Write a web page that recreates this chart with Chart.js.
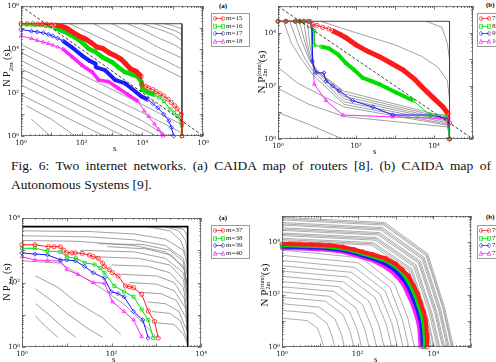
<!DOCTYPE html>
<html>
<head>
<meta charset="utf-8">
<script src="https://cdn.jsdelivr.net/npm/chart.js@4.4.1/dist/chart.umd.min.js"></script>
<style>
  body { margin: 0; width: 496px; height: 362px; overflow: hidden; background: #fff; position: relative; font-family: "Liberation Serif", serif; }
  canvas { position: absolute; }
  .cap { position: absolute; font-size: 13.5px; line-height: 16px; color: #111; white-space: nowrap; }
  .ylab { position: absolute; transform: translate(-50%, -50%) rotate(-90deg); font-size: 10px; white-space: nowrap; color: #111; }
  .xlab { position: absolute; font-size: 9px; color: #111; }
  .tag { position: absolute; font-size: 7px; font-weight: bold; }
  .lg { position: absolute; border: 1px solid #999; background: #fff; font-size: 7px; line-height: 7.5px; padding: 1px 0 1px 1px; white-space: nowrap; }
  .lg div { height: 7.5px; }
  .lg svg { vertical-align: middle; margin-right: 1px; }
  .st { display: inline-flex; flex-direction: column; font-size: 6px; line-height: 6px; vertical-align: middle; }
</style>
</head>
<body>
<canvas id="tl" width="212" height="150" style="left:0;top:0"></canvas>
<canvas id="tr" width="220" height="153" style="left:258px;top:0"></canvas>
<canvas id="bl" width="210" height="157" style="left:0;top:205px"></canvas>
<canvas id="br" width="214" height="157" style="left:262px;top:205px"></canvas>

<div class="cap" style="left:11px;top:158px;width:480px;text-align:justify;text-align-last:justify">Fig. 6: Two internet networks. (a) CAIDA map of routers [8]. (b) CAIDA map of</div>
<div class="cap" style="left:11px;top:177px">Autonomous Systems [9].</div>

<div class="ylab" style="left:8px;top:68px">N P<sub style="font-size:7px">2m</sub>&nbsp;(s)</div>
<div class="ylab" style="left:262px;top:72px;font-size:11px">N P<span class="st"><span>(cum)</span><span>2m</span></span>(s)</div>
<div class="ylab" style="left:8px;top:282px">N P<sub style="font-size:7px">2m</sub>&nbsp;(s)</div>
<div class="ylab" style="left:265px;top:285px;font-size:11px">N P<span class="st"><span>(cum)</span><span>2m</span></span>(s)</div>

<div class="xlab" style="left:113px;top:143px">s</div>
<div class="xlab" style="left:373px;top:146px">s</div>
<div class="xlab" style="left:112px;top:354px">s</div>
<div class="xlab" style="left:374px;top:354px">s</div>

<div class="tag" style="left:219px;top:2px">(a)</div>
<div class="tag" style="left:486px;top:1px">(b)</div>
<div class="tag" style="left:219px;top:214px">(a)</div>
<div class="tag" style="left:486px;top:213px">(b)</div>

<div id="lg-tl" class="lg" style="left:211px;top:13px;width:36px"></div>
<div id="lg-tr" class="lg" style="left:477px;top:13px;width:30px"></div>
<div id="lg-bl" class="lg" style="left:211px;top:225px;width:36px"></div>
<div id="lg-br" class="lg" style="left:477px;top:225px;width:30px"></div>

<script>
// series colours and marker shapes (m order: red, green, blue, magenta)
const colors = ['#ff1a1a', '#00dd00', '#1a1aff', '#ff22ff'];
const shapes = ['circle', 'rect', 'rectRot', 'triangle'];

// ---------- (a) top: CAIDA routers ----------
const tlLabels = ['m=15', 'm=16', 'm=17', 'm=18'];
const tlRed = [[1,1.55e5],[1.6,1.55e5],[2.5,1.55e5],[3.6,1.5e5],[5,1.48e5],[7,1.45e5],[10,1.4e5],[14,1.33e5],[20,1.26e5],[32,9.5e4],[50,6.3e4],[80,4.2e4],[126,3.2e4],[200,2.1e4],[316,1.3e4],[500,1.1e4],[800,7e3],[1260,5.2e3],[2000,3.5e3],[2800,2.2e3],[4000,1.3e3],[6300,950],[9100,560],[9300,240],[1.3e4,200],[1.6e4,165],[2.2e4,140],[2.8e4,112],[3.8e4,90],[5e4,71],[7e4,50],[9e4,35],[1.15e5,25],[1.4e5,18],[1.9e5,10],[2e5,4],[2e5,1]];
const tlGreen = [[1,1.4e5],[1.5,1.4e5],[2.1,1.4e5],[3,1.35e5],[4.5,1.3e5],[6.5,1.22e5],[9,1.15e5],[13,1e5],[18.6,8.3e4],[28,6.5e4],[63,3.5e4],[100,2.2e4],[174,1.05e4],[270,8e3],[500,4.2e3],[1000,2.6e3],[1600,1.5e3],[2630,910],[4500,700],[7000,550],[9500,300],[1e4,140],[1.6e4,100],[2.5e4,80],[3.6e4,60],[5.1e4,41],[8.3e4,17],[1.1e5,12],[1.4e5,8.5],[1.8e5,6],[2e5,3],[2e5,1]];
const tlBlue = [[1,8.3e4],[2.2,7e4],[3.4,6.5e4],[5.4,5.9e4],[8,5e4],[11,4.2e4],[16,3.3e4],[24,2.5e4],[50,1.2e4],[105,5.1e3],[174,3.1e3],[280,2.2e3],[300,1.5e3],[590,1.1e3],[1260,390],[2630,275],[4300,162],[9100,68],[1.5e4,48],[2.2e4,32],[3.2e4,20],[5.1e4,10],[7.4e4,5],[9e4,2.5],[1.07e5,1]];
const tlMagenta = [[1,4.2e4],[2.2,3.2e4],[3.4,2.6e4],[5.4,2.2e4],[8,1.9e4],[11,1.6e4],[16,1.3e4],[24,1.05e4],[50,4.4e3],[105,1.8e3],[220,910],[360,390],[760,325],[1600,162],[3400,81],[7000,41],[1.15e4,14.5],[1.6e4,8],[2.5e4,3.6],[3.4e4,2],[4.5e4,1.3],[4.8e4,1]];
const tlBox = [[1,1.55e5],[2e5,1.55e5],[2e5,1]];
const tlDiag = [[1,1e6],[1e6,1]];
const tlGray = [
  [[1,1.7e4],[10,3.5e3],[100,690],[1e3,140],[1e4,28],[1e5,5.5],[2e5,3.4]],
  [[1,7.2e3],[10,1.45e3],[100,290],[1e3,58],[1e4,12],[1e5,2.3],[2e5,1.4]],
  [[1,3.1e3],[10,620],[100,120],[1e3,25],[1e4,5],[6e4,1]],
  [[1,1.3e3],[10,260],[100,52],[1e3,10],[1e4,2.1],[3e4,1]],
  [[1,550],[10,110],[100,22],[1e3,4.4],[8e3,1]],
  [[1,230],[10,46],[100,9],[1e3,1.8],[2.5e3,1]],
  [[1,81],[10,16],[100,3.2],[550,1]],
  [[1.5,25],[10,6],[60,1]],
  [[2.2,6],[8,1.2]],
  [[40,1.55e5],[316,4e4],[3160,8.9e3],[3.16e4,1.8e3],[2e5,500]],
  [[250,1.55e5],[1e3,5.6e4],[4e3,2e4],[1.6e4,7e3],[6.3e4,2.8e3],[2e5,1.26e3]],
  [[1e3,1.55e5],[3.2e3,7e4],[1e4,3.2e4],[4e4,1.1e4],[2e5,4e3]],
  [[3.2e3,1.55e5],[1e4,8e4],[3.2e4,3.5e4],[1e5,1.8e4],[2e5,1e4]],
  [[1e4,1.55e5],[3.2e4,9e4],[1e5,5e4],[2e5,2.5e4]],
  [[2.5e4,1.55e5],[6.3e4,1e5],[1.26e5,7e4],[2e5,5e4]],
  [[5e4,1.55e5],[1e5,1.26e5],[2e5,9e4]]
];

// ---------- (b) top: CAIDA autonomous systems ----------
const trLabels = ['7', '8', '9', '10'];
const trRed = [[1,2.7e4],[1.6,2.7e4],[2.8,2.7e4],[3.6,2.7e4],[4.6,2.7e4],[6,2.7e4],[7.6,2.1e4],[10,1.9e4],[14,1.6e4],[20,1.4e4],[25,1.2e4],[40,8.5e3],[55,6.5e3],[100,3.5e3],[200,2e3],[400,1.26e3],[800,710],[1600,400],[3200,178],[5000,89],[9300,37],[1.7e4,16],[2.3e4,9],[2.5e4,4],[2.5e4,1]];
const trGreen = [[1,2.7e4],[1.6,2.7e4],[2.8,2.7e4],[3.6,2.7e4],[4.6,2.7e4],[6.3,2.7e4],[8.5,1.2e4],[8.5,3.4e3],[13,3e3],[20,2.6e3],[35,1.5e3],[55,720],[90,400],[148,200],[250,150],[400,115],[1070,56],[2900,28],[7900,8],[2.1e4,8],[2.5e4,1]];
const trBlue = [[1,2.7e4],[1.6,2.7e4],[2.8,2.7e4],[3.6,2.7e4],[4.6,2.7e4],[6.3,2.7e4],[7.6,1.6e4],[7.6,830],[9.3,310],[15,310],[17,150],[25,100],[37,66],[81,28],[270,16],[870,8],[7900,8],[2.3e4,5.9],[2.5e4,1]];
const trMagenta = [[1,2.7e4],[1.6,2.7e4],[2.8,2.7e4],[3.6,2.7e4],[4.6,2.7e4],[7,2.7e4],[8.5,115],[17,28],[46,8],[870,6.8],[2.1e4,5.9],[2.5e4,1]];
const trBox = [[1,2.7e4],[2.5e4,2.7e4],[2.5e4,1]];
const trDiag = [[1,1e5],[1e5,1]];
const trGray = [
  [[1.4,2.7e4],[2.2,4e3],[4,1e3],[8,250],[50,20],[2.5e4,3.5]],
  [[2,2.7e4],[3.2,4e3],[5,1e3],[8,355],[50,25],[2.5e4,4]],
  [[2.8,2.7e4],[4,5e3],[6.3,1e3],[10,400],[50,32],[2.5e4,4.5]],
  [[3.5,2.7e4],[5,4e3],[7,800],[10,320],[50,40],[2.5e4,5]],
  [[4.5,2.7e4],[5.6,4e3],[8,500],[50,50],[2.5e4,5.6]],
  [[5.6,2.7e4],[6.6,3.2e3],[9,400],[50,63],[2.5e4,6.3]],
  [[1,500],[3.2,126],[50,16],[2.5e4,3.2]],
  [[1,80],[6.3,20],[50,7],[2.5e4,2.8]],
  [[1,10],[6.3,3.5],[45,1]],
  [[12.6,2.7e4],[100,1e4],[1e3,3.5e3],[5e3,1.26e3],[1.26e4,500],[2.2e4,160],[2.5e4,32]],
  [[6.3e3,2.7e4],[1.6e4,1.6e4],[2.2e4,4e3],[2.5e4,1e3]]
];

// ---------- (a) bottom ----------
const blLabels = ['m=37', 'm=38', 'm=39', 'm=40'];
const blRed = [[1,1480],[1.95,1480],[3.9,1290],[5.2,1290],[7.2,1290],[8.5,1000],[10,830],[13,830],[15.5,830],[22,800],[32,710],[39,630],[50,560],[63,400],[69,310],[89,250],[105,200],[140,160],[204,78],[250,74],[310,69],[470,43],[660,13],[910,6.2],[1100,1.9]];
const blGreen = [[1,1150],[1.95,1150],[3.7,950],[7.2,890],[10,630],[16,560],[25,410],[42,360],[56,280],[69,200],[115,78],[190,52],[310,36],[470,14.5],[660,6.9],[850,1.9]];
const blBlue = [[1,830],[1.95,760],[3.7,720],[7.2,500],[10,500],[15.5,470],[25,316],[39,200],[69,138],[98,52],[140,45],[190,36],[310,12.6],[500,6.9],[660,1.9]];
const blMagenta = [[1,630],[1.95,500],[3.7,480],[7.2,460],[10,250],[17.8,178],[39,100],[69,95],[105,25],[190,12.6],[310,6.9],[470,2.1]];
const blBox = [[1,5400],[5000,5400],[5000,1]];
const blGray = [
  [[1,4000],[32,3800],[320,3200],[1600,2200],[4000,1000],[5000,320]],
  [[1,2800],[32,2600],[320,2100],[1600,1400],[4000,560],[5000,160]],
  [[1,2000],[16,1900],[320,1400],[1600,890],[4000,320],[5000,80]],
  [[50,1600],[500,1500],[2000,1000],[4000,450],[5000,60]],
  [[20,1000],[320,890],[1600,560],[4000,200],[5000,40]],
  [[80,1300],[600,1100],[2200,700],[4200,250],[5000,30]],
  [[40,630],[400,560],[2000,350],[4000,126],[5000,20]],
  [[100,350],[630,320],[2000,200],[4000,71],[5000,10]],
  [[160,180],[1000,160],[2500,100],[4200,32],[5000,5]],
  [[250,100],[1000,89],[2500,56],[4500,16],[5000,2.5]],
  [[400,50],[1260,45],[2800,28],[4600,7.9],[5000,1.6]],
  [[630,25],[1600,22],[3200,12.6],[4800,3.2]],
  [[800,12.6],[2000,11],[3500,6.3],[4900,1.6]],
  [[1000,5.6],[2500,5],[4000,2.5],[5000,1.26]],
  [[630,5400],[2000,4000],[3500,2000],[4800,630],[5000,100]],
  [[1600,5400],[3200,4000],[4500,2000],[5000,630]],
  [[2000,5400],[4000,4500],[4800,3000],[5000,1500]],
  [[1,470],[7.2,400],[16,200],[63,63],[200,20],[630,4],[1000,2]],
  [[2,160],[6.3,71],[16,25],[63,8],[160,2.5]],
  [[2,63],[5,25],[10,11],[32,3.5],[63,2]],
  [[2,22],[4,10],[10,3.2],[16,2]],
  [[2,9],[4,3.5],[6.3,2]]
];

// ---------- (b) bottom ----------
const brLabels = ['70', '71', '72', '73'];
const brRed = [[1,8500],[1.6,8500],[3,8300],[6,8100],[10,7900],[18,7600],[40,6600],[80,5300],[135,4300],[250,3400],[550,2400],[1000,1500],[1500,900],[2200,520],[3000,220],[3800,110],[4600,48],[5500,22],[6200,11],[6800,3],[6900,1]];
const brGreen = [[1,7600],[1.6,7600],[3,7400],[6,7200],[10,7000],[18,6700],[40,5800],[80,4600],[135,3700],[250,2900],[550,2000],[1000,1200],[1500,700],[2000,400],[2700,180],[3400,85],[4100,38],[4900,17],[5500,8],[5900,2.5],[6000,1]];
const brBlue = [[1,6700],[1.6,6700],[3,6500],[6,6300],[10,6100],[18,5800],[40,5000],[80,3900],[135,3100],[250,2400],[500,1600],[900,950],[1300,560],[1800,310],[2400,140],[3000,66],[3700,30],[4400,13],[4900,6],[5200,2],[5300,1]];
const brMagenta = [[1,5900],[1.6,5900],[3,5700],[6,5500],[10,5300],[18,5000],[40,4300],[80,3300],[135,2600],[250,2000],[450,1300],[800,760],[1150,450],[1600,250],[2100,110],[2700,50],[3300,22],[3900,10],[4300,4.5],[4500,1.8],[4600,1]];
const brGray = [
  [[1,5000],[126,2540],[944,254],[2110,12.9],[3160,1]],
  [[1,3160],[102,1660],[708,188],[1510,11.2],[2240,1]],
  [[1,2000],[83,1090],[525,140],[1100,9.8],[1580,1]],
  [[1,1260],[68,710],[390,104],[790,8.5],[1120,1]],
  [[1,790],[55,470],[290,77],[570,7.4],[790,1]],
  [[1,500],[42,305],[197,57],[367,6.5],[500,1]],
  [[1,316],[32,200],[133,42],[237,5.6],[316,1]],
  [[1,200],[24,131],[90,31],[153,4.9],[200,1]],
  [[1,126],[18,86],[61,23],[99,4.3],[126,1]],
  [[1,79],[13.8,56],[41,17],[64,3.7],[79,1]],
  [[1,45],[9.8,33],[25,11.8],[37,3.1],[45,1]],
  [[1,25],[6.9,19.5],[15.5,8.1],[21,2.6],[25,1]],
  [[1,12.6],[4.6,10.2],[8.6,5.2],[11,2.1],[12.6,1]],
  [[1,11200],[234,7730],[2280,824],[5660,16.4],[8900,1]],
  [[1,12600],[251,8630],[2510,895],[6310,17],[10000,1]],
  [[1,14100],[262,9640],[2670,973],[6740,17.6],[10700,1]],
  [[1,17800],[288,12000],[3050,1150],[7850,18.8],[12600,1]],
  [[1,20000],[305,13400],[3300,1250],[8570,19.5],[13800,1]],
  [[1,22400],[316,15000],[3510,1360],[9120,20],[14800,1]],
  [[1,28200],[350,18700],[4020,1600],[10700,21.6],[17400,1]],
  [[1,31600],[365,20900],[4260,1740],[11400,22.4],[18600,1]],
  [[1,35500],[380,23300],[4520,1890],[12200,23],[20000,1]],
  [[1,44700],[413,29100],[5080,2230],[13900,25],[22900,1]],
  [[1,50100],[430,32500],[5400,2420],[14800,25.7],[24500,1]],
  [[1,56200],[449,36300],[5710,2630],[15800,26.6],[26300,1]],
  [[1,70800],[488,45300],[6430,3100],[18000,28.5],[30200,1]],
  [[1,79400],[500,50600],[6680,3370],[18800,29.5],[31600,1]],
  [[1,89100],[522,56500],[7080,3660],[20000,30.5],[33900,1]]
];

// tick label values
const tlXTicks = [1, 1e2, 1e4, 1e6], tlYTicks = [1, 1e2, 1e4, 1e6];
const trXTicks = [1, 1e2, 1e4], trYTicks = [1, 1e2, 1e4];
const blXTicks = [1, 1e2, 1e4], blYTicks = [1, 1e2, 1e4];
const brXTicks = [1, 1e2, 1e4], brYTicks = [1, 1e2, 1e4];

const sup = { 0: '\u2070', 1: '\u00b9', 2: '\u00b2', 3: '\u00b3', 4: '\u2074', 5: '\u2075', 6: '\u2076' };
const toXY = pts => pts.map(p => ({ x: p[0], y: p[1] }));

// frame with small inward log ticks on all four sides
const framePlugin = {
  id: 'frame',
  afterDatasetsDraw(chart) {
    const { ctx, chartArea: a, scales: { x, y } } = chart;
    ctx.save();
    ctx.strokeStyle = '#555';
    ctx.lineWidth = 0.8;
    ctx.strokeRect(a.left + 0.5, a.top + 0.5, a.width - 1, a.height - 1);
    ctx.beginPath();
    for (let d = 0; d < 7; d++) {
      for (let k = 1; k < 10; k++) {
        const v = k * Math.pow(10, d);
        const len = k === 1 ? 3.5 : 1.8;
        if (v <= x.max) {
          const px = Math.round(x.getPixelForValue(v)) + 0.5;
          ctx.moveTo(px, a.bottom); ctx.lineTo(px, a.bottom - len);
          ctx.moveTo(px, a.top); ctx.lineTo(px, a.top + len);
        }
        if (v <= y.max) {
          const py = Math.round(y.getPixelForValue(v)) + 0.5;
          ctx.moveTo(a.left, py); ctx.lineTo(a.left + len, py);
          ctx.moveTo(a.right, py); ctx.lineTo(a.right - len, py);
        }
      }
    }
    ctx.stroke();
    ctx.restore();
  }
};

function logAxis(max, ticks, size, isX) {
  return {
    type: 'logarithmic',
    min: 1,
    max: max,
    position: isX ? 'bottom' : 'left',
    grid: { display: false, drawTicks: false },
    border: { display: false },
    ticks: {
      autoSkip: false,
      maxRotation: 0,
      padding: isX ? 3 : 2,
      color: '#111',
      font: { family: 'DejaVu Serif', size: 7 },
      callback: v => '10' + sup[Math.round(Math.log10(v))]
    },
    afterBuildTicks: s => { s.ticks = ticks.map(v => ({ value: v })); },
    afterFit: s => { if (isX) s.height = size; else s.width = size; }
  };
}

function makeChart(id, o) {
  const datasets = [];
  if (o.diag) {
    datasets.push({ data: toXY(o.diag), borderColor: '#111', borderWidth: 0.8, borderDash: [3, 2], pointRadius: 0, showLine: true, order: 0 });
  }
  o.series.forEach((pts, i) => {
    const band = o.bands[i];
    datasets.push({
      data: toXY(pts),
      showLine: true,
      order: 1,
      clip: 6,
      borderColor: colors[i],
      borderWidth: 1,
      pointStyle: shapes[i],
      pointRadius: 2.1,
      pointBorderWidth: 0.8,
      pointBorderColor: colors[i],
      pointBackgroundColor: 'rgba(0,0,0,0)',
      segment: {
        borderWidth: c => (band && c.p0.parsed.x >= band[0] && c.p1.parsed.x <= band[1]) ? band[2] : 1
      }
    });
  });
  datasets.push({ data: toXY(o.box), borderColor: o.boxColor || '#444', borderWidth: o.boxWidth || 1, pointRadius: 0, showLine: true, order: 2 });
  o.gray.forEach(pts => {
    datasets.push({ data: toXY(pts), borderColor: o.grayColor || '#777', borderWidth: 0.7, pointRadius: 0, showLine: true, order: 3 });
  });
  return new Chart(document.getElementById(id), {
    type: 'scatter',
    data: { datasets },
    options: {
      responsive: false,
      animation: false,
      events: [],
      layout: { padding: o.pad },
      plugins: { legend: { display: false }, tooltip: { enabled: false } },
      scales: {
        x: logAxis(o.xMax, o.xTicks, o.xH, true),
        y: logAxis(o.yMax, o.yTicks, o.yW, false)
      }
    },
    plugins: [framePlugin]
  });
}

// thick overlapping-marker bands: [from x, to x, width]
makeChart('tl', {
  xMax: 1e6, yMax: 1e6, xTicks: tlXTicks, yTicks: tlYTicks, yW: 21, xH: 14,
  pad: { top: 3, right: 5, left: 0, bottom: 0 },
  series: [tlRed, tlGreen, tlBlue, tlMagenta],
  bands: [[14, 9200, 5], [13, 2.6e4, 4.5], [24, 1.6e4, 4], [24, 9000, 3.5]],
  box: tlBox, diag: tlDiag, gray: tlGray
});
makeChart('tr', {
  xMax: 1e5, yMax: 1e5, xTicks: trXTicks, yTicks: trYTicks, yW: 20, xH: 14,
  pad: { top: 3, right: 5, left: 0, bottom: 0 },
  series: [trRed, trGreen, trBlue, trMagenta],
  bands: [[25, 2.3e4, 5], [13, 3000, 4], null, null],
  box: trBox, diag: trDiag, gray: trGray
});
makeChart('bl', {
  xMax: 1e4, yMax: 1e4, xTicks: blXTicks, yTicks: blYTicks, yW: 22, xH: 15,
  pad: { top: 13, right: 4, left: 0, bottom: 0 },
  series: [blRed, blGreen, blBlue, blMagenta],
  bands: [null, null, null, null],
  box: blBox, boxColor: '#000', boxWidth: 1.6, gray: blGray
});
makeChart('br', {
  xMax: 1e5, yMax: 1e5, xTicks: brXTicks, yTicks: brYTicks, yW: 20, xH: 15,
  pad: { top: 11, right: 4, left: 0, bottom: 0 },
  series: [brRed, brGreen, brBlue, brMagenta],
  bands: [[1, 1e5, 4], [1, 1e5, 4], [1, 1e5, 4], [1, 1e5, 4]],
  box: [[1, 1], [1, 1]], gray: brGray, grayColor: '#8a8a8a'
});

// legends: line with a marker at each end, then the label
function markerSvg(i) {
  const c = colors[i];
  const m = x => {
    if (i === 0) return `<circle cx="${x}" cy="3.5" r="1.8" fill="none" stroke="${c}" stroke-width="0.7"/>`;
    if (i === 1) return `<rect x="${x - 1.7}" y="1.8" width="3.4" height="3.4" fill="none" stroke="${c}" stroke-width="0.7"/>`;
    if (i === 2) return `<path d="M${x} 1.3L${x + 2.1} 3.5L${x} 5.7L${x - 2.1} 3.5Z" fill="none" stroke="${c}" stroke-width="0.7"/>`;
    return `<path d="M${x} 1.4L${x + 2} 5.2L${x - 2} 5.2Z" fill="none" stroke="${c}" stroke-width="0.7"/>`;
  };
  return `<svg width="12" height="7"><line x1="2" y1="3.5" x2="10" y2="3.5" stroke="${c}" stroke-width="0.7"/>${m(2)}${m(10)}</svg>`;
}
function fillLegend(id, labels) {
  document.getElementById(id).innerHTML = labels.map((t, i) => `<div>${markerSvg(i)}<span style="color:#222">${t}</span></div>`).join('');
}
fillLegend('lg-tl', tlLabels);
fillLegend('lg-tr', trLabels);
fillLegend('lg-bl', blLabels);
fillLegend('lg-br', brLabels);
</script>
</body>
</html>
